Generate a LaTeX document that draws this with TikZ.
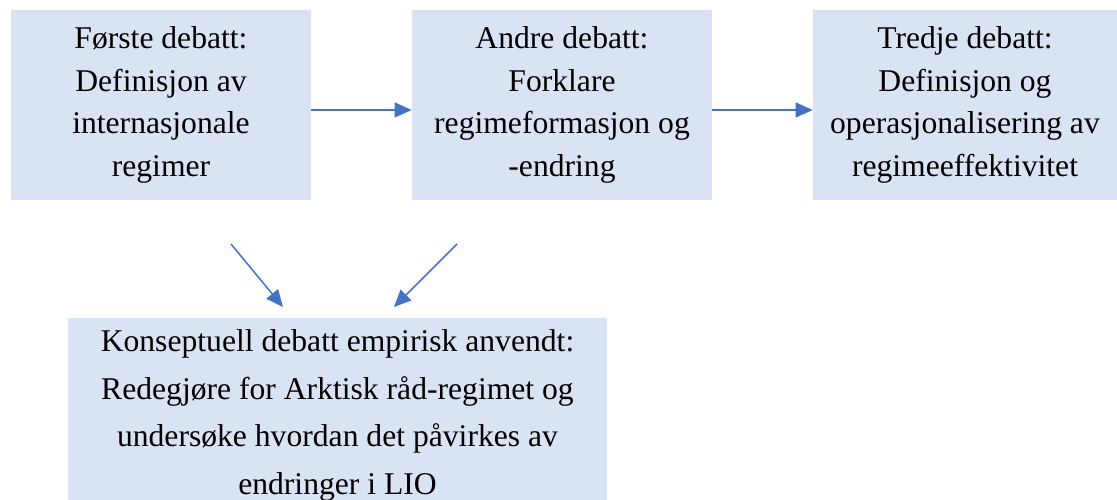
\documentclass[tikz,border=0pt]{standalone}
\usepackage{fontspec}
\setmainfont{Liberation Serif}
\usetikzlibrary{arrows.meta,calc}
\definecolor{boxblue}{HTML}{DAE3F3}
\definecolor{arrowblue}{HTML}{4472C4}

\begin{document}
\begin{tikzpicture}
[   debatt/.style={fill=boxblue,minimum width=6cm,minimum height=3.8cm,inner sep=0pt,align=center,font=\fontsize{18}{24.4}\selectfont},
    pil/.style={draw=arrowblue,line width=0.85pt,-{Triangle[length=3.4mm,width=3mm]}}
]
    \useasboundingbox (0,0) rectangle (22.34,10);
    \node[debatt] (D1) at (3.22,7.9) {Første debatt:\\Definisjon av\\internasjonale\\regimer};
    \node[debatt] (D2) at (11.24,7.9) {Andre debatt:\\Forklare\\regimeformasjon og\\-endring};
    \node[debatt,minimum width=6.08cm] (D3) at (19.3,7.9) {Tredje debatt:\\Definisjon og\\operasjonalisering av\\regimeeffektivitet};
    \node[debatt,minimum width=10.78cm,minimum height=3.64cm] (K) at (6.75,1.82) {};
        \node[align=center,inner sep=0pt,font=\fontsize{18}{27}\selectfont] (Ktext) at ([yshift=-1.3mm]K.center)
            {Konseptuell debatt empirisk anvendt:\\Redegjøre for Arktisk råd-regimet og\\undersøke hvordan det påvirkes av\\endringer i LIO};
    \draw[pil] ([yshift=-1mm]D1.east) -- ([yshift=-1mm]D2.west);
    \draw[pil] ([yshift=-1mm]D2.east) -- ([yshift=-1mm]D3.west);
    \coordinate (s1) at (4.62,5.12);
    \coordinate (s2) at (9.14,5.12);
    \coordinate (t1) at (5.66,3.86);
    \coordinate (t2) at (7.88,3.86);
    \draw[pil] (s1) -- (t1);
    \draw[pil] (s2) -- (t2);
\end{tikzpicture}
\end{document}
